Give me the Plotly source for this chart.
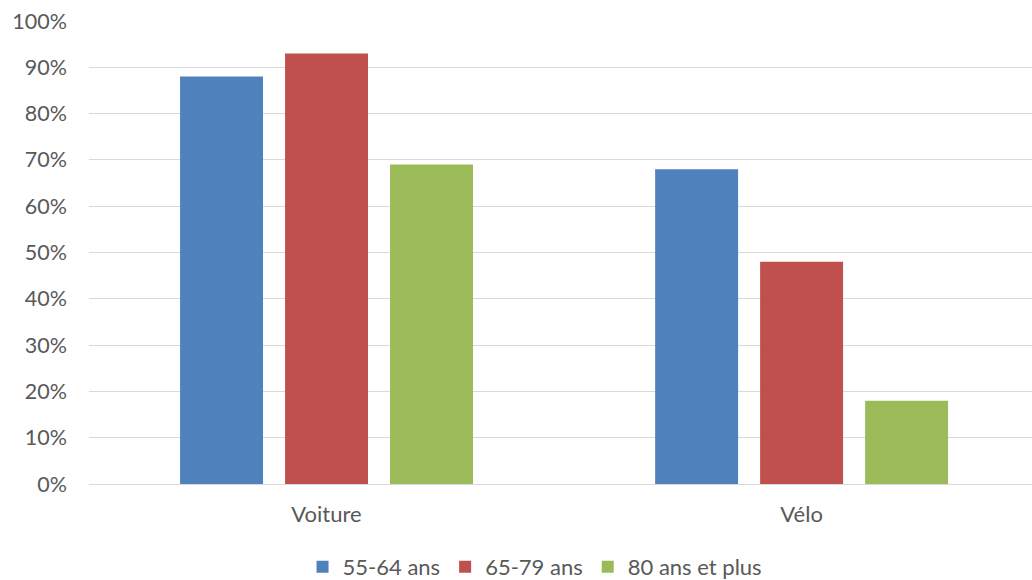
import plotly.graph_objects as go

categories = ["Voiture", "Vélo"]
series_names = ["55-64 ans", "65-79 ans", "80 ans et plus"]
values_55_64 = [0.88, 0.68]
values_65_79 = [0.93, 0.48]
values_80_plus = [0.69, 0.18]
colors = ["#4F81BD", "#C0504D", "#9BBB59"]
tick_vals = [i / 10 for i in range(11)]

fig = go.Figure()
for name, vals, col in zip(series_names, [values_55_64, values_65_79, values_80_plus], colors):
    fig.add_trace(go.Bar(x=categories, y=vals, name=name, marker=dict(color=col, line=dict(width=0))))

font_family = "Lato, 'Open Sans', sans-serif"
fig.update_layout(
    width=1032, height=580,
    margin=dict(l=89, r=0, t=21, b=96, autoexpand=False),
    paper_bgcolor="white", plot_bgcolor="white",
    barmode="group", bargap=0.337, bargroupgap=0.21,
    font=dict(family=font_family, size=22, color="#595959"),
    legend=dict(orientation="h", x=0.473, xanchor="center", xref="paper", y=-0.179, yanchor="middle",
                font=dict(size=22, color="#595959"), itemwidth=30, traceorder="normal"),
    showlegend=True,
)
fig.update_xaxes(range=[-0.5, 1.485], showgrid=False, showline=False, ticks="",
                 tickfont=dict(size=22, color="#595959"), ticklabelstandoff=15)
fig.update_yaxes(range=[0, 1], tickvals=tick_vals, tickformat=".0%", showgrid=True, gridcolor="#D9D9D9",
                 gridwidth=1.4, zeroline=True, zerolinecolor="#D9D9D9", zerolinewidth=1.4,
                 showline=False, ticks="", ticklabelstandoff=21, ticklabeloverflow="allow",
                 tickfont=dict(size=21.5, color="#595959"))

fig.write_html("out.html", config={"displayModeBar": False},
               post_script="document.body.style.margin='0';document.body.style.overflow='hidden';")
